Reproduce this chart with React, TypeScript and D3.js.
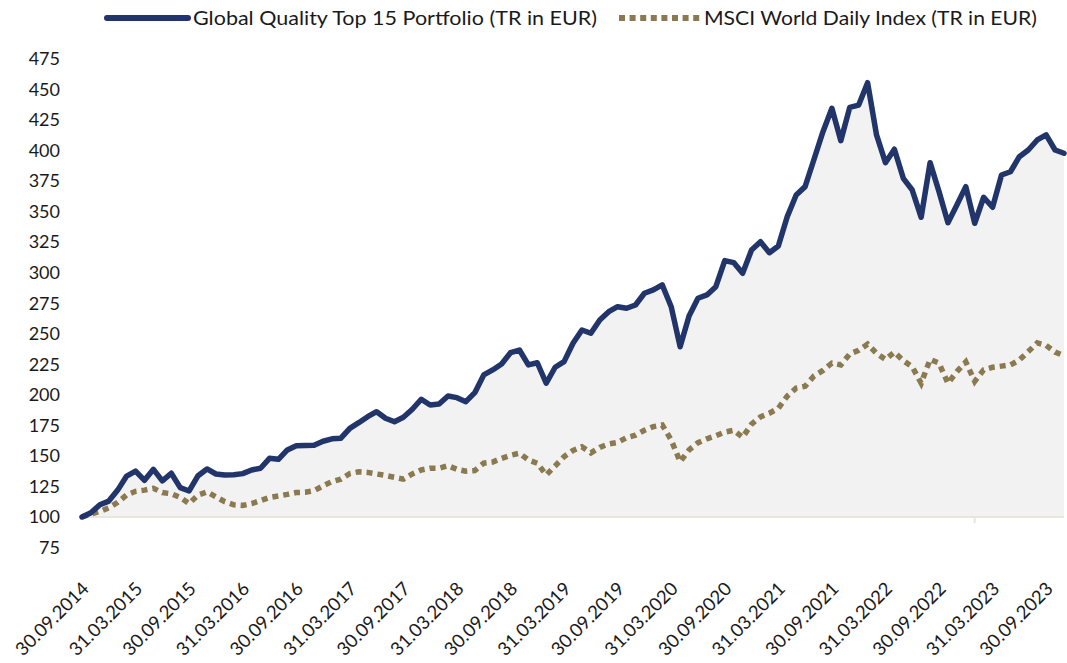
import React from "react";
import * as d3 from "d3";

// monthly values, index 0 = 30.09.2014
const portfolio = [
  100, 103.5, 110, 113, 122, 133.5, 137.5, 130, 139, 129.5,
  135.8, 124, 121.3, 133.8, 139.3, 135.2, 134.4, 134.5, 135.5, 138.5,
  139.9, 148, 147.2, 154.9, 158.4, 158.6, 158.7, 162, 164, 164.5,
  172.6, 177.2, 182.1, 186.2, 180.8, 178, 181.6, 188.2, 196.4, 191.7,
  192.5, 199.1, 197.7, 194.4, 201.8, 216.3, 220.4, 225.3, 234.5, 236.7,
  224.5, 226.3, 209.5, 222.6, 227.2, 242.2, 253.1, 250.4, 261.3, 268.1,
  272.2, 270.9, 273.6, 283.2, 285.9, 290, 272.2, 239.4, 264.6, 279.1,
  281.8, 288.6, 309.9, 308.3, 299.5, 318.6, 325.4, 316.4, 321.9, 345.9,
  363.7, 370.5, 392.9, 415.5, 434.6, 408.1, 435.4, 437.3, 455.6, 412.8,
  390.1, 401.1, 377.3, 367.7, 345.4, 390.1, 366.4, 341, 355.5, 370.5,
  340.5, 361.8, 353.6, 380, 382.7, 395, 400.5, 408.7, 412.8, 400.5, 397.8,
];

const msci = [
  100, 102.5, 104.5, 107.5, 112, 118, 121, 122, 123.5, 120,
  119, 116, 111, 118, 120.5, 116.5, 112.5, 110, 109.5, 111,
  113.5, 116, 117.2, 118.5, 120, 120.2, 121.5, 125.5, 129, 131,
  135.5, 137, 136.5, 135.2, 134, 132.5, 131, 135.2, 138.5, 139.9,
  139.9, 142, 139, 137.5, 138, 144, 145, 148, 150.5, 152.2,
  146.7, 144, 134.4, 141.8, 149.4, 154.5, 157.5, 152.5, 157, 159.8,
  161, 165, 167, 171, 174, 175.3, 163, 145.3, 154.9, 160.8,
  164, 166.5, 169.5, 171, 165.3, 176, 182, 185, 189, 199,
  205.5, 207, 215.5, 220, 226, 224.5, 233.5, 236.5, 241.5, 234,
  229, 235, 228, 223, 209.5, 229, 226, 209.5, 219, 227,
  211, 220.5, 222.6, 223.5, 224.5, 228.5, 235.4, 242.5, 240.5, 235, 232,
];

const dateLabels = [
  "30.09.2014", "31.03.2015", "30.09.2015", "31.03.2016", "30.09.2016",
  "31.03.2017", "30.09.2017", "31.03.2018", "30.09.2018", "31.03.2019",
  "30.09.2019", "31.03.2020", "30.09.2020", "31.03.2021", "30.09.2021",
  "31.03.2022", "30.09.2022", "31.03.2023", "30.09.2023",
];
const labelStep = 6;

const yTicks = d3.range(75, 476, 25);

const seriesNames = [
  "Global Quality Top 15 Portfolio (TR in EUR)",
  "MSCI World Daily Index (TR in EUR)",
];

const W = 1067;
const H = 663;
const NAVY = "#21356b";
const TAN = "#8b7a50";
const FONT = "Lato, 'Open Sans', sans-serif";

const x = d3.scaleLinear().domain([0, portfolio.length - 1]).range([82, 1064]);
const y = d3.scaleLinear().domain([75, 475]).range([547.5, 59]);

const line = d3
  .line<number>()
  .x((_, i) => x(i))
  .y((d) => y(d));

const area = d3
  .area<number>()
  .x((_, i) => x(i))
  .y0(y(100))
  .y1((d) => y(d));

export default function App() {
  return (
    <svg
      width={W}
      height={H}
      style={{ position: "absolute", left: 0, top: 0, background: "#fff" }}
      fontFamily={FONT}
    >
      {/* area under portfolio */}
      <path d={area(portfolio) ?? ""} fill="#f2f2f2" />
      <line
        x1={x(0)}
        x2={x(portfolio.length - 1)}
        y1={y(100)}
        y2={y(100)}
        stroke="#e8e6de"
        strokeWidth={2}
      />
      <line x1={x(100)} x2={x(100)} y1={y(100)} y2={y(100) + 6} stroke="#e8e6de" strokeWidth={2} />

      {/* y axis labels */}
      {yTicks.map((t) => (
        <text
          key={t}
          x={60}
          y={y(t)}
          dy="0.35em"
          textAnchor="end"
          fontSize={18}
          fill="#1a1a1a"
        >
          {t}
        </text>
      ))}

      {/* x axis labels */}
      {dateLabels.map((d, k) => (
        <text
          key={d}
          transform={`translate(${x(k * labelStep) + 8},${590}) rotate(-45)`}
          textAnchor="end"
          fontSize={18.5}
          fill="#1a1a1a"
        >
          {d}
        </text>
      ))}

      {/* series */}
      <path
        d={line(msci) ?? ""}
        fill="none"
        stroke={TAN}
        strokeWidth={5.5}
        strokeDasharray="6 5"
      />
      <path
        d={line(portfolio) ?? ""}
        fill="none"
        stroke={NAVY}
        strokeWidth={5.5}
        strokeLinejoin="round"
        strokeLinecap="round"
      />

      {/* legend */}
      <line x1={107} x2={188} y1={18} y2={18} stroke={NAVY} strokeWidth={6} strokeLinecap="round" />
      <text x={193} y={25} fontSize={19} fill="#1a1a1a" textLength={404} lengthAdjust="spacingAndGlyphs">
        {seriesNames[0]}
      </text>
      <line x1={619} x2={700} y1={18} y2={18} stroke={TAN} strokeWidth={6} strokeDasharray="6 4.6" />
      <text x={704} y={25} fontSize={19} fill="#1a1a1a" textLength={333} lengthAdjust="spacingAndGlyphs">
        {seriesNames[1]}
      </text>
    </svg>
  );
}
